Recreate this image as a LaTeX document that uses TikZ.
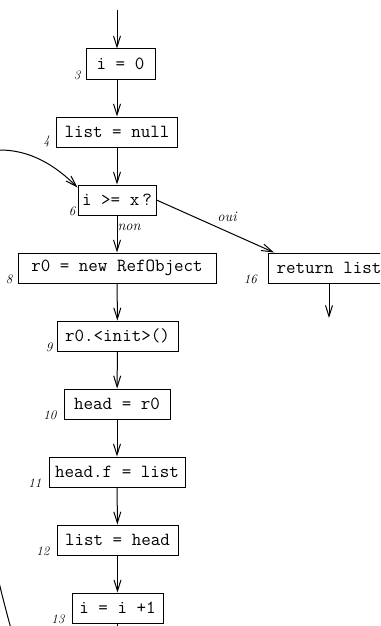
\documentclass[tikz,border=0pt]{standalone}
\usepackage{fontspec}
\usetikzlibrary{arrows.meta,calc}
\begin{document}
\begin{tikzpicture}[x=1pt,y=-1pt,
  box/.style={draw, line width=1pt, minimum height=30pt, inner sep=0pt,
    font=\fontsize{18.5}{22}\selectfont\ttfamily},
  flow/.style={line width=1pt, -{Straight Barb[length=11pt,width=7pt]}},
  num/.style={font=\fontsize{13}{15}\selectfont\itshape, inner sep=0pt, anchor=south east},
  cond/.style={font=\fontsize{14.5}{16}\selectfont\itshape, inner sep=0pt}]
\useasboundingbox (0,0) rectangle (380,626);
\clip (0,0) rectangle (380,626);

% statements of the control-flow graph
\node[box, minimum width=69pt]  (n3)  at (120.5,64) {i = 0};
\node[box, minimum width=121pt] (n4)  at (117,132)  {list = null};
\node[box, minimum width=78pt]  (n6)  at (117,200)  {i >= x\,?};
\node[box, minimum width=198pt] (n8)  at (117,268)  {r0 = new RefObject};
\node[box, minimum width=121pt] (n16) at (329,268)  {return list};
\node[box, minimum width=121pt] (n9)  at (117.5,336) {r0.<init>()};
\node[box, minimum width=106pt] (n10) at (117,404)  {head = r0};
\node[box, minimum width=136pt] (n11) at (117,472)  {head.f = list};
\node[box, minimum width=121pt] (n12) at (117.5,540) {list = head};
\node[box, minimum width=91pt]  (n13) at (117.5,608) {i = i +1};

% line numbers
\node[num] (l3)  at ([xshift=-5pt]n3.south west)  {3};
\node[num] (l4)  at ([xshift=-6pt]n4.south west)  {4};
\node[num] (l6)  at ([xshift=-2pt]n6.south west)  {6};
\node[num] (l8)  at ([xshift=-5pt]n8.south west)  {8};
\node[num] (l16) at ([xshift=-11pt]n16.south west) {16};
\node[num] (l9)  at ([xshift=-4pt]n9.south west)  {9};
\node[num] (l10) at ([xshift=-7pt]n10.south west) {10};
\node[num] (l11) at ([xshift=-7pt]n11.south west) {11};
\node[num] (l12) at ([xshift=-7pt]n12.south west) {12};
\node[num] (l13) at ([xshift=-7pt]n13.south west) {13};

% free ends
\coordinate (entry) at (117,10);
\coordinate (exit16) at (329,318);
\coordinate (exit13) at (117.5,680);
\coordinate (back) at (20,660);

% edges
\draw[flow] (entry) -- (entry |- n3.north);
\draw[flow] (n3.south -| n4.north) -- (n4);
\draw[flow] (n4) -- (n6);
\draw[flow] (n6) -- node[cond, anchor=west, pos=0.33] {non} (n8);
\draw[flow] (n6.east) -- node[cond, pos=0.6, above=9pt] {oui} ([xshift=6pt]n16.north west);
\draw[flow] (n16) -- (exit16);
\draw[flow] (n8) -- (n9);
\draw[flow] (n9) -- (n10);
\draw[flow] (n10) -- (n11);
\draw[flow] (n11) -- (n12);
\draw[flow] (n12) -- (n13);
\draw[flow] (n13) -- (exit13);

% loop back to the test
\draw[flow] (back) .. controls (-10,560) and (-40,420) .. (-35,300)
  .. controls (-30,180) and (-20,150) .. (0,150)
  .. controls (30,150) and (55,165) .. ([yshift=-3pt]n6.north west);
\end{tikzpicture}
\end{document}
